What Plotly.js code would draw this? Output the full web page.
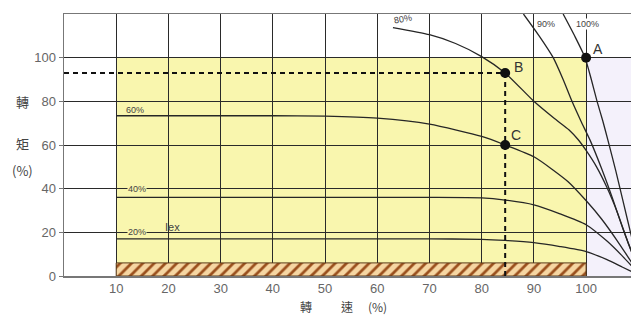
<!DOCTYPE html>
<html>
<head>
<meta charset="utf-8">
<script src="https://cdn.plot.ly/plotly-3.0.1.min.js"></script>
<style>html,body{margin:0;padding:0;background:#fff;}#chart{width:631px;height:316px;}</style>
</head>
<body>
<div id="chart"></div>
<script>
// ---- data ----
const speedTicks = [10, 20, 30, 40, 50, 60, 70, 80, 90, 100];
const torqueTicks = [0, 20, 40, 60, 80, 100];

// constant-torque operating region (yellow) and hatched base
const regionSpeed = [10, 100];
const regionTorque = [0, 100];
const hatchX = [10, 100, 100, 10, 10];
const hatchY = [0, 0, 6, 6, 0];

// characteristic curves (speed %, torque %)
const c100x = [95.6, 97.8, 99.8, 101.0, 102.1, 103.2, 104.2, 105.7, 107.2, 108.8, 110.5];
const c100y = [120, 110, 100, 90, 80, 71, 62, 48, 33, 17, 0];
const c90x = [88, 91, 93.7, 95.6, 97.3, 99, 100.8, 103, 105, 107, 110.5];
const c90y = [120, 110, 100, 90, 80, 71, 62, 49, 36, 22, 0];
const c80x = [63, 70, 75, 80, 84.5, 90, 94, 96.7, 98.5, 100, 102, 104, 106, 108, 110.5];
const c80y = [113.8, 110.5, 106.5, 100.5, 93, 80, 72, 67, 62.4, 57.5, 50, 40.5, 29, 15.5, 0];
const c60x = [10, 40, 50, 60, 70, 80, 84.5, 90, 96.5, 100.2, 103, 106, 108.5, 110.5];
const c60y = [73.4, 73.4, 73.2, 72.3, 69.6, 63.9, 60, 54.6, 43.3, 34, 26, 16, 7, 0];
const c40x = [10, 60, 70, 80, 84.5, 90, 95, 100, 104, 107, 110.5];
const c40y = [36, 36, 36, 35.8, 34.8, 32.6, 28.5, 23.5, 16, 9, 0];
const c20x = [10, 70, 80, 84.5, 90, 95, 100, 104, 107, 110.5];
const c20y = [17, 17, 16.8, 16.3, 15.3, 13.5, 11.2, 7.5, 4, 0];

// operating points
const pointNames = ['A', 'B', 'C'];
const pointX = [100, 84.5, 84.5];
const pointY = [100, 93, 60];
const pointLabelX = [102.2, 87.1, 86.6];
const pointLabelY = [104, 95.5, 64.5];

// guide (dashed) lines through B
const guideHx = [0, 84.5];
const guideHy = [93, 93];
const guideVx = [84.5, 84.5];
const guideVy = [93, 0];

// curve labels
const curveLabels = ['80%', '90%', '100%', '60%', '40%', '20%', 'Iex'];
const curveLabelX = [65.0, 92.3, 100.3, 13.6, 13.9, 13.9, 20.7];
const curveLabelY = [117.6, 115.5, 115.5, 76.2, 40, 20, 22.6];

// ---- traces ----
const curveLine = {color: '#262626', width: 1.3, shape: 'spline', smoothing: 0.6};
const traces = [];
traces.push({x: hatchX, y: hatchY, mode: 'lines', fill: 'toself',
  fillcolor: '#f6d6a2',
  fillpattern: {shape: '/', fgcolor: '#9a4f1c', bgcolor: '#f6d6a2', size: 8, solidity: 0.35},
  line: {color: '#5a3a1a', width: 1}, hoverinfo: 'skip', showlegend: false});
[[c100x, c100y], [c90x, c90y], [c80x, c80y], [c60x, c60y], [c40x, c40y], [c20x, c20y]].forEach(c => {
  traces.push({x: c[0], y: c[1], mode: 'lines', line: curveLine, showlegend: false, cliponaxis: true});
});
traces.push({x: guideHx, y: guideHy, mode: 'lines', line: {color: '#111', width: 2, dash: '5px,4px'}, showlegend: false});
traces.push({x: guideVx, y: guideVy, mode: 'lines', line: {color: '#111', width: 2, dash: '5px,4px'}, showlegend: false});
traces.push({x: pointX, y: pointY, mode: 'markers', marker: {color: '#111', size: 10}, showlegend: false});

// ---- annotations ----
const annotations = [];
pointNames.forEach((n, i) => annotations.push({x: pointLabelX[i], y: pointLabelY[i], xref: 'x', yref: 'y',
  text: n, showarrow: false, font: {family: 'Liberation Sans, Arial, sans-serif', size: 14, color: '#333'}}));
curveLabels.forEach((t, i) => {
  const a = {x: curveLabelX[i], y: curveLabelY[i], xref: 'x', yref: 'y', text: t, showarrow: false,
    xanchor: 'center', yanchor: 'middle',
    font: {family: 'Liberation Sans, Arial, sans-serif', size: t === 'Iex' ? 11 : 9, color: '#444'}, borderpad: 0};
  if (t === '80%') a.textangle = -10;
  if (t === '100%') a.bgcolor = '#ffffff';
  if (t === '40%' || t === '20%') a.bgcolor = '#f9f6ae';
  annotations.push(a);
});
const cjk = 'Noto Sans CJK TC, Noto Sans CJK SC, sans-serif';
[['轉', 79.8], ['矩', 60.5], ['(%)', 48.3]].forEach(p => annotations.push({
  x: -0.074, y: p[1], xref: 'paper', yref: 'y', text: p[0], showarrow: false,
  xanchor: 'center', yanchor: 'middle',
  font: {family: cjk, size: 13, color: '#444'}}));
[['轉', 306], ['速', 347], ['(%)', 377]].forEach(p => annotations.push({
  x: (p[1] - 64) / 567, y: -0.115, xref: 'paper', yref: 'paper', text: p[0], showarrow: false,
  xanchor: 'center', yanchor: 'middle',
  font: {family: cjk, size: 12, color: '#444'}}));

const layout = {
  width: 631, height: 316,
  margin: {l: 64, r: 0, t: 14, b: 40, pad: 0},
  paper_bgcolor: '#ffffff', plot_bgcolor: '#ffffff',
  showlegend: false,
  xaxis: {range: [0, 108.6], tickvals: speedTicks, ticktext: speedTicks.map(String),
    showgrid: true, gridcolor: '#2a2a2a', gridwidth: 1, zeroline: false,
    showline: true, linecolor: '#777', linewidth: 1.5, mirror: true, ticks: '',
    tickfont: {family: 'Liberation Sans, Arial, sans-serif', size: 13, color: '#666'}},
  yaxis: {range: [0, 120], tickvals: torqueTicks, ticktext: torqueTicks.map(String),
    showgrid: true, gridcolor: '#2a2a2a', gridwidth: 1, zeroline: false,
    showline: true, linecolor: '#777', linewidth: 1.5, ticks: 'outside', ticklen: 4, tickcolor: '#777',
    tickfont: {family: 'Liberation Sans, Arial, sans-serif', size: 13, color: '#666'}},
  shapes: [
    {type: 'rect', xref: 'x', yref: 'y', x0: regionSpeed[0], x1: regionSpeed[1], y0: regionTorque[0], y1: regionTorque[1],
      fillcolor: '#f9f6ae', line: {width: 0}, layer: 'below'},
    {type: 'rect', xref: 'x', yref: 'y', x0: regionSpeed[1], x1: 108.6, y0: regionTorque[0], y1: regionTorque[1],
      fillcolor: '#f4f1fb', line: {width: 0}, layer: 'below'}
  ],
  annotations: annotations
};

Plotly.newPlot('chart', traces, layout, {staticPlot: true, displayModeBar: false});
</script>
</body>
</html>
